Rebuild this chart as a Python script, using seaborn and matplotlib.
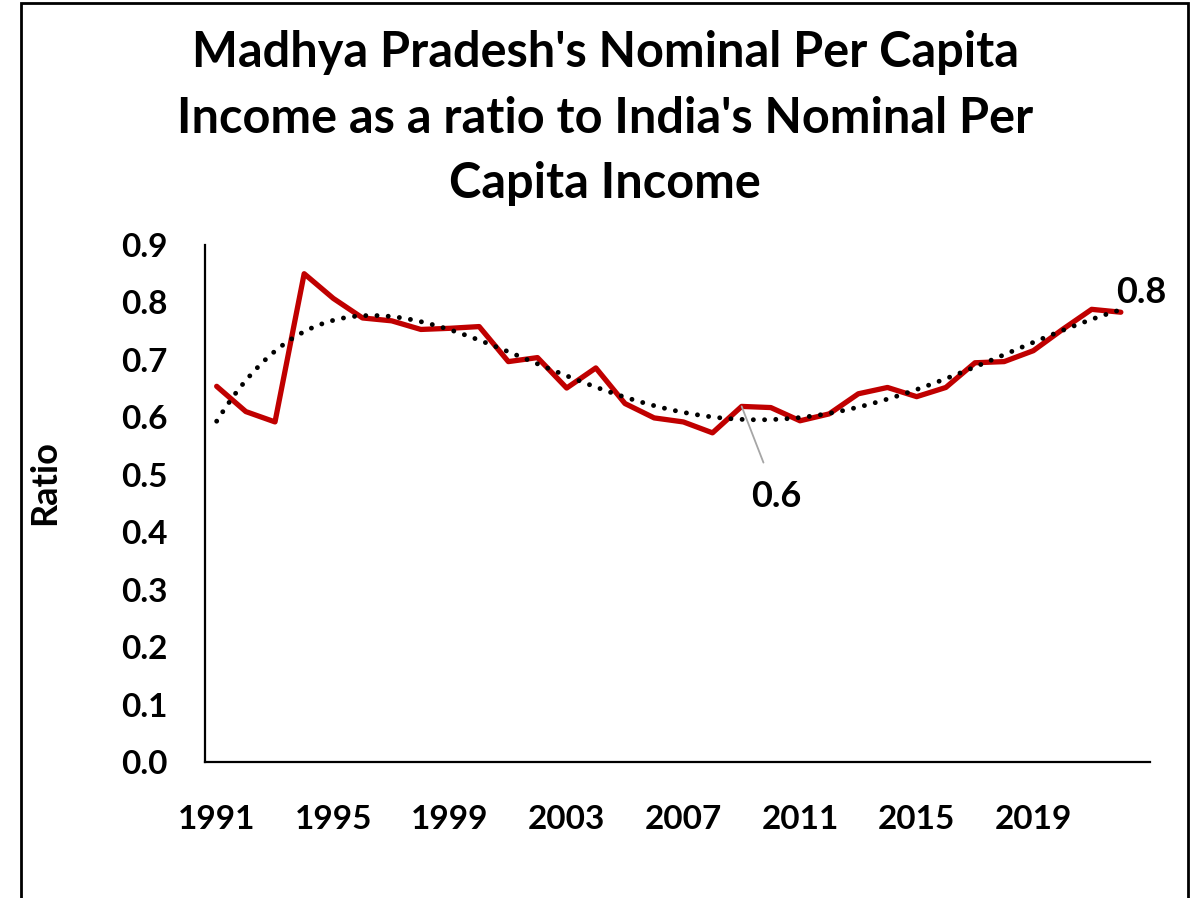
import numpy as np
import pandas as pd
import matplotlib
matplotlib.use("Agg")
import matplotlib.pyplot as plt
import seaborn as sb
from matplotlib.patches import Rectangle

# данные
years = list(range(1991, 2023))
ratio = [0.654, 0.610, 0.592, 0.850, 0.807, 0.773, 0.768, 0.753, 0.755, 0.758,
         0.697, 0.704, 0.651, 0.686, 0.624, 0.599, 0.592, 0.573, 0.619, 0.617,
         0.594, 0.606, 0.641, 0.652, 0.636, 0.652, 0.695, 0.697, 0.716, 0.753,
         0.788, 0.783]
xticks = [1991, 1995, 1999, 2003, 2007, 2011, 2015, 2019]
yticks = [0.0, 0.1, 0.2, 0.3, 0.4, 0.5, 0.6, 0.7, 0.8, 0.9]
title = "Madhya Pradesh's Nominal Per Capita\nIncome as a ratio to India's Nominal Per\nCapita Income"

df = pd.DataFrame({"year": years, "ratio": ratio})

sb.set_style("white")
plt.rcParams['font.family'] = ['Lato', 'DejaVu Sans']
plt.rcParams['font.weight'] = 'bold'
for k in ['text.color', 'axes.labelcolor', 'xtick.color', 'ytick.color']:
    plt.rcParams[k] = 'black'

fig = plt.figure(figsize=(11.96, 8.98), dpi=100)
ax = fig.add_axes([205 / 1196, 1 - 762 / 898, 945 / 1196, 517 / 898])

# рамка вокруг всей картинки
fig.patches.append(Rectangle((21 / 1196, -0.05), 1167 / 1196, 1.05 - 3 / 898,
                             transform=fig.transFigure, fill=False,
                             edgecolor="black", linewidth=2))

sb.lineplot(data=df, x="year", y="ratio", color="#C00000", linewidth=3.8, ax=ax)
# полиномиальный тренд
sb.regplot(data=df, x="year", y="ratio", order=6, ci=None, scatter=False, ax=ax,
           line_kws=dict(color="black", linewidth=3.5, linestyle=(0, (0.01, 2.3)),
                         dash_capstyle="round"))

ax.set_xlim(1990.6, 2023.0)
ax.set_ylim(0, 0.9)
ax.set_xticks(xticks)
ax.set_yticks(yticks)
ax.set_yticklabels([f"{v:.1f}" for v in yticks])
ax.tick_params(axis="both", length=0, labelsize=24)
ax.tick_params(axis="x", pad=31)
ax.tick_params(axis="y", pad=27)
ax.set_xlabel("")
ax.set_ylabel("Ratio", fontsize=26, fontweight="bold")
ax.yaxis.set_label_coords(-0.152, 0.54)
for s in ["top", "right"]:
    ax.spines[s].set_visible(False)
for s in ["left", "bottom"]:
    ax.spines[s].set_color("black")
    ax.spines[s].set_linewidth(1.6)

# подписи
ax.annotate("0.6", xy=(years[18], ratio[18]), xytext=(2010.2, 0.462),
            ha="center", va="center", fontsize=26, fontweight="bold",
            arrowprops=dict(arrowstyle="-", color="#A6A6A6", lw=1.3,
                            shrinkA=11, shrinkB=0))
ax.text(2022.7, 0.818, "0.8", ha="center", va="center", fontsize=26,
        fontweight="bold", clip_on=False)

fig.suptitle(title, x=0.506, y=1 - 30 / 898, va="top", fontsize=35,
             fontweight="bold", linespacing=1.56)

plt.savefig("out.png", dpi=100)
